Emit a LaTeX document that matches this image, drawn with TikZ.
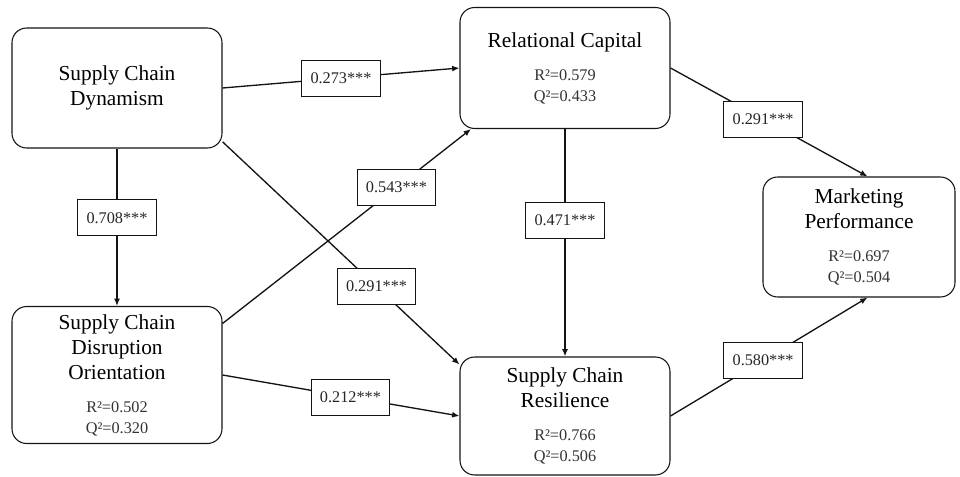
\documentclass[tikz,border=0pt]{standalone}
\usepackage{fontspec}
\setmainfont{Liberation Serif}
\usepackage{tikz}
\usetikzlibrary{arrows.meta}
\definecolor{linegray}{RGB}{20,20,20}
\newcommand{\statfont}{\fontsize{12.2}{14}\selectfont\color{black!80}}
\tikzstyle{construct} = [rectangle, rounded corners=11pt, minimum width=157.5pt, draw=linegray, line width=0.8pt, fill=white, align=center, font=\fontsize{16}{18.75}\selectfont]
\tikzstyle{coef} = [rectangle, draw=linegray, line width=0.7pt, fill=white, minimum width=59pt, minimum height=27pt, inner sep=2pt, font=\fontsize{12.2}{14}\selectfont\color{black!85}]
\tikzstyle{arrow} = [line width=1pt, draw=linegray, -{Latex[length=5.5pt,width=4.5pt]}]

\begin{document}
\begin{tikzpicture}[x=0.75pt, y=-0.75pt]
\useasboundingbox (0,0) rectangle (960,477);

% Constructs
\node[construct, minimum height=90pt] (SCD) at (117,88) {Supply Chain\\Dynamism};
\node[construct, minimum height=90.75pt] (RC) at (565,68) {Relational Capital\\[6pt]\statfont R²=0.579\\[-3pt]\statfont Q²=0.433};
\node[construct, minimum height=90pt, minimum width=144pt] (MP) at (859,237) {Marketing\\Performance\\[6pt]\statfont R²=0.697\\[-3pt]\statfont Q²=0.504};
\node[construct, minimum height=102.75pt] (SCDO) at (117,375) {Supply Chain\\Disruption\\Orientation\\[6pt]\statfont R²=0.502\\[-3pt]\statfont Q²=0.320};
\node[construct, minimum height=88.5pt] (SCR) at (565,416) {Supply Chain\\Resilience\\[6pt]\statfont R²=0.766\\[-3pt]\statfont Q²=0.506};

% Paths from Supply Chain Dynamism
\draw[arrow] (SCD.east) -- node[coef, pos=0.5] (c1) {0.273***} (RC.west);
\draw[arrow] (SCD.south) -- node[coef, pos=0.44] (c2) {0.708***} (SCDO.north);
\draw[arrow] (SCD.-27) -- node[coef, pos=0.65] (c3) {0.291***} (SCR.154);

% Paths from Supply Chain Disruption Orientation
\draw[arrow] (SCDO.26) -- node[coef, pos=0.70] (c4) {0.543***} (RC.213);
\draw[arrow] (SCDO.east) -- node[coef, pos=0.54] (c5) {0.212***} (SCR.west);

% Paths to Supply Chain Resilience and Marketing Performance
\draw[arrow] (RC.south) -- node[coef, pos=0.40] (c6) {0.471***} (SCR.north);
\draw[arrow] (RC.east) -- node[coef, pos=0.47] (c7) {0.291***} (MP.82);
\draw[arrow] (SCR.east) -- node[coef, pos=0.47] (c8) {0.580***} (MP.-82);

\end{tikzpicture}
\end{document}
